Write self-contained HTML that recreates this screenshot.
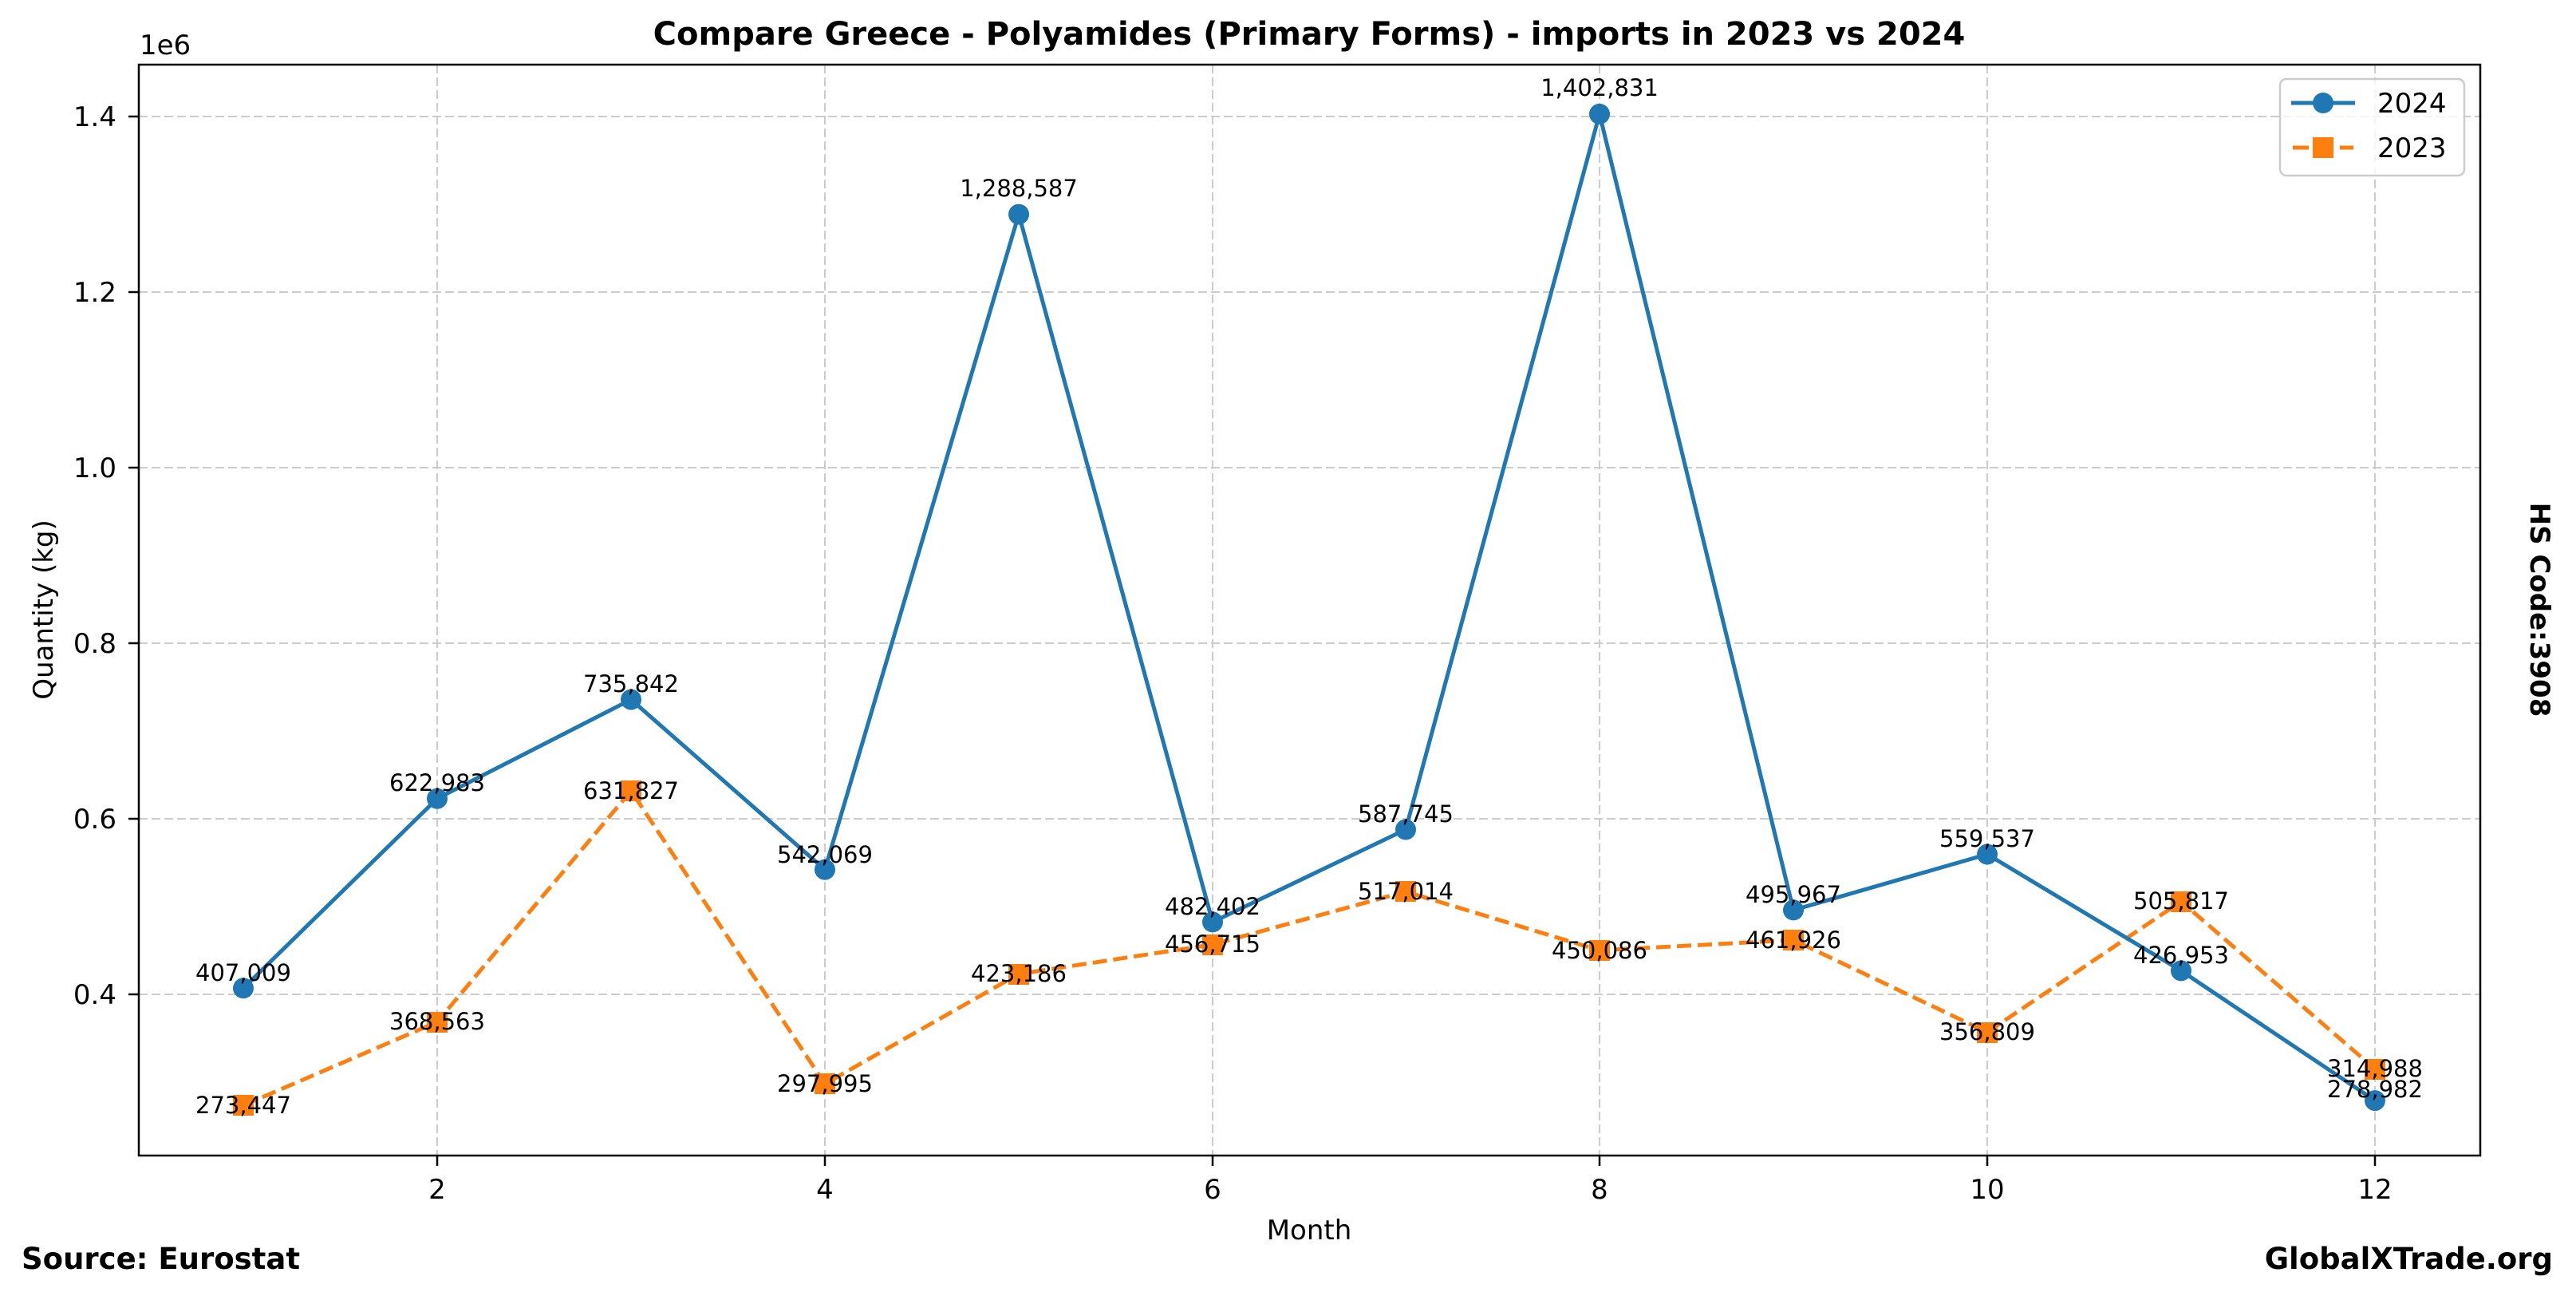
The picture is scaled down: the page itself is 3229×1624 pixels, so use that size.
<!DOCTYPE html>
<html><head><meta charset="utf-8"><style>
html,body{margin:0;padding:0;background:#fff}
svg{display:block}
text{font-family:"DejaVu Sans","Liberation Sans",sans-serif;fill:#000}
</style></head><body>
<svg width="3229" height="1624" viewBox="0 0 3229 1624" xmlns="http://www.w3.org/2000/svg">
<rect width="3229" height="1624" fill="#fff"/>
<g stroke="#cccccc" stroke-width="2" stroke-dasharray="11,5">
<line x1="174" x2="3109" y1="1246" y2="1246"/>
<line x1="174" x2="3109" y1="1026" y2="1026"/>
<line x1="174" x2="3109" y1="806" y2="806"/>
<line x1="174" x2="3109" y1="586" y2="586"/>
<line x1="174" x2="3109" y1="366" y2="366"/>
<line x1="174" x2="3109" y1="146" y2="146"/>
<line x1="548" x2="548" y1="81" y2="1448"/>
<line x1="1034" x2="1034" y1="81" y2="1448"/>
<line x1="1520" x2="1520" y1="81" y2="1448"/>
<line x1="2005" x2="2005" y1="81" y2="1448"/>
<line x1="2491" x2="2491" y1="81" y2="1448"/>
<line x1="2977" x2="2977" y1="81" y2="1448"/>
</g>
<polyline fill="none" stroke="#ff7f0e" stroke-width="5" stroke-dasharray="18,8" points="305,1385.2 548,1280.6 791,991 1034,1358.2 1277,1220.5 1520,1183.6 1762,1117.3 2005,1190.9 2248,1177.9 2491,1293.5 2734,1129.6 2977,1339.5"/>
<g fill="#ff7f0e">
<rect x="292" y="1372" width="26" height="26"/><rect x="535" y="1268" width="26" height="26"/><rect x="778" y="978" width="26" height="26"/><rect x="1021" y="1345" width="26" height="26"/><rect x="1264" y="1208" width="26" height="26"/><rect x="1507" y="1171" width="26" height="26"/><rect x="1749" y="1104" width="26" height="26"/><rect x="1992" y="1178" width="26" height="26"/><rect x="2235" y="1165" width="26" height="26"/><rect x="2478" y="1281" width="26" height="26"/><rect x="2721" y="1117" width="26" height="26"/><rect x="2964" y="1327" width="26" height="26"/>
</g>
<polyline fill="none" stroke="#1f77b4" stroke-width="5" points="305,1238.3 548,1000.7 791,876.6 1034,1089.7 1277,268.6 1520,1155.4 1762,1039.5 2005,142.9 2248,1140.4 2491,1070.5 2734,1216.4 2977,1379.1"/>
<g fill="#1f77b4">
<circle cx="305" cy="1238.3" r="13"/><circle cx="548" cy="1000.7" r="13"/><circle cx="791" cy="876.6" r="13"/><circle cx="1034" cy="1089.7" r="13"/><circle cx="1277" cy="268.6" r="13"/><circle cx="1520" cy="1155.4" r="13"/><circle cx="1762" cy="1039.5" r="13"/><circle cx="2005" cy="142.9" r="13"/><circle cx="2248" cy="1140.4" r="13"/><circle cx="2491" cy="1070.5" r="13"/><circle cx="2734" cy="1216.4" r="13"/><circle cx="2977" cy="1379.1" r="13"/>
</g>
<g font-size="29" text-anchor="middle">
<text x="305" y="1229">407,009</text><text x="548" y="991">622,983</text><text x="791" y="867">735,842</text><text x="1034" y="1081">542,069</text><text x="1277" y="246">1,288,587</text><text x="1520" y="1146">482,402</text><text x="1762" y="1030">587,745</text><text x="2005" y="120">1,402,831</text><text x="2248" y="1131">495,967</text><text x="2491" y="1061">559,537</text><text x="2734" y="1207">426,953</text><text x="2977" y="1375">278,982</text>
<text x="305" y="1395">273,447</text><text x="548" y="1290">368,563</text><text x="791" y="1001">631,827</text><text x="1034" y="1368">297,995</text><text x="1277" y="1230">423,186</text><text x="1520" y="1193">456,715</text><text x="1762" y="1127">517,014</text><text x="2005" y="1201">450,086</text><text x="2248" y="1188">461,926</text><text x="2491" y="1303">356,809</text><text x="2734" y="1139">505,817</text><text x="2977" y="1349">314,988</text>
</g>
<rect x="174" y="81" width="2935" height="1367" fill="none" stroke="#000" stroke-width="2.5"/>
<g stroke="#000" stroke-width="2.5">
<line x1="161" x2="174" y1="1246" y2="1246"/><line x1="161" x2="174" y1="1026" y2="1026"/><line x1="161" x2="174" y1="806" y2="806"/><line x1="161" x2="174" y1="586" y2="586"/><line x1="161" x2="174" y1="366" y2="366"/><line x1="161" x2="174" y1="146" y2="146"/>
<line x1="548" x2="548" y1="1448" y2="1461"/><line x1="1034" x2="1034" y1="1448" y2="1461"/><line x1="1520" x2="1520" y1="1448" y2="1461"/><line x1="2005" x2="2005" y1="1448" y2="1461"/><line x1="2491" x2="2491" y1="1448" y2="1461"/><line x1="2977" x2="2977" y1="1448" y2="1461"/>
</g>
<g font-size="34" text-anchor="end">
<text x="146" y="1258">0.4</text><text x="146" y="1038">0.6</text><text x="146" y="818">0.8</text><text x="146" y="598">1.0</text><text x="146" y="378">1.2</text><text x="146" y="158">1.4</text>
</g>
<g font-size="34" text-anchor="middle">
<text x="548" y="1502">2</text><text x="1034" y="1502">4</text><text x="1520" y="1502">6</text><text x="2005" y="1502">8</text><text x="2491" y="1502">10</text><text x="2977" y="1502">12</text>
</g>
<text x="175" y="68" font-size="34">1e6</text>
<text x="1641" y="1553" font-size="34" text-anchor="middle">Month</text>
<text transform="translate(66,764) rotate(-90)" font-size="34" text-anchor="middle">Quantity (kg)</text>
<text x="1641" y="56" font-size="40" font-weight="bold" text-anchor="middle">Compare Greece - Polyamides (Primary Forms) - imports in 2023 vs 2024</text>
<text x="27" y="1590" font-size="37" font-weight="bold">Source: Eurostat</text>
<text x="3200" y="1590" font-size="37" font-weight="bold" text-anchor="end">GlobalXTrade.org</text>
<text transform="translate(3172,764) rotate(90)" font-size="34" font-weight="bold" text-anchor="middle">HS Code:3908</text>
<rect x="2858" y="99" width="231" height="121" rx="8" fill="#fff" fill-opacity="0.8" stroke="#cccccc" stroke-width="2.5"/>
<line x1="2872" x2="2952" y1="129" y2="129" stroke="#1f77b4" stroke-width="5"/>
<circle cx="2912" cy="129" r="13" fill="#1f77b4"/>
<line x1="2874" x2="2950" y1="185" y2="185" stroke="#ff7f0e" stroke-width="5" stroke-dasharray="20,39"/>
<rect x="2899" y="172" width="26" height="26" fill="#ff7f0e"/>
<text x="2980" y="141" font-size="34">2024</text>
<text x="2980" y="197" font-size="34">2023</text>
</svg>
</body></html>
